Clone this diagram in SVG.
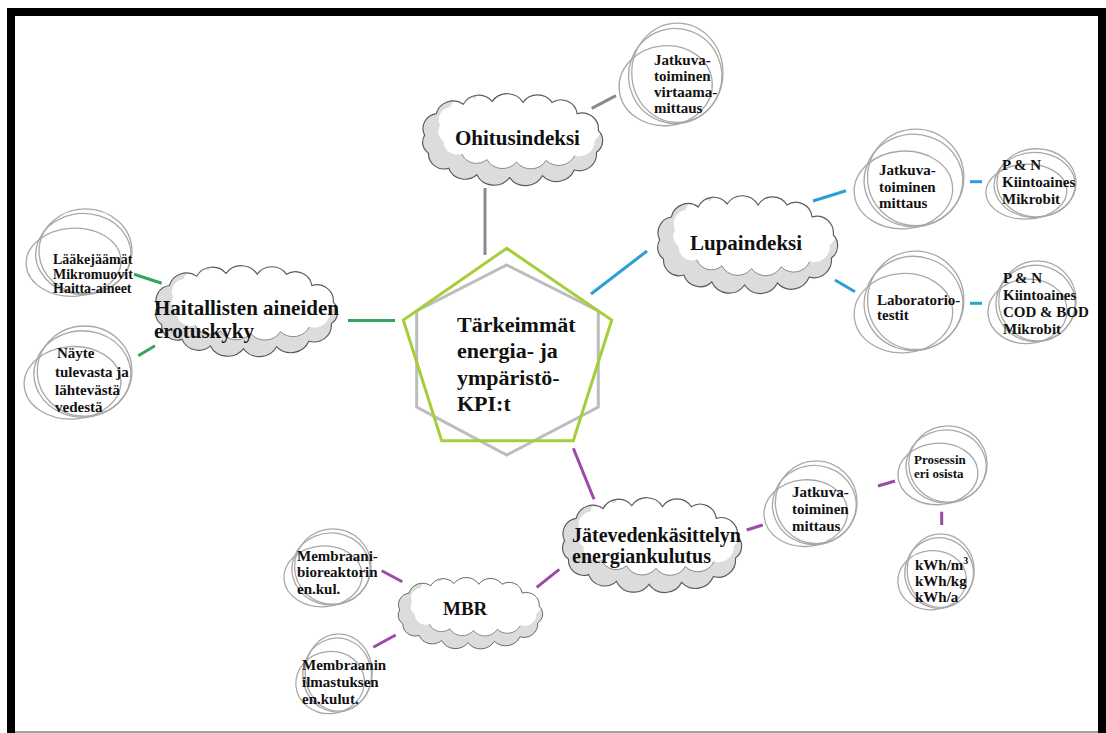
<svg xmlns="http://www.w3.org/2000/svg" xmlns:xlink="http://www.w3.org/1999/xlink" width="1106" height="733" viewBox="0 0 1106 733">
<style>
text{font-family:"Liberation Serif","Times New Roman",serif;font-weight:bold;fill:#111}
.big{font-size:21px}
.sm{font-size:15px}
.c{stroke-width:3;stroke-linecap:butt;fill:none}
.gray{stroke:#8a8a8a}.blue{stroke:#2b9ed4}.green{stroke:#35a55c}.purple{stroke:#9b4aa5}
</style>
<defs>
<path id="cp" d="M10,45 A16,16 0 0 1 22,22 A18,18 0 0 1 50,12 A18,18 0 0 1 80,9 A19,19 0 0 1 112,10 A18,18 0 0 1 142,10 A17,17 0 0 1 168,22 A17,17 0 0 1 190,40 A15,15 0 0 1 188,63 A18,18 0 0 1 165,82 A20,20 0 0 1 132,88 A20,20 0 0 1 98,90 A20,20 0 0 1 64,87 A18,18 0 0 1 35,80 A16,16 0 0 1 14,64 A14,14 0 0 1 10,45 Z"/>
<clipPath id="cclip"><use xlink:href="#cp"/></clipPath>
<symbol id="cloud" viewBox="0 0 200 100" preserveAspectRatio="none" style="overflow:visible">
<use xlink:href="#cp" fill="#dcdcdc"/>
<g clip-path="url(#cclip)">
<g transform="translate(17,-4) scale(0.9,0.86)">
<use xlink:href="#cp" fill="#fff"/>
<path d="M165,82 A20,20 0 0 1 132,88 A20,20 0 0 1 98,90 A20,20 0 0 1 64,87 A18,18 0 0 1 35,80" fill="none" stroke="#8a8a8a" stroke-width="1" vector-effect="non-scaling-stroke"/>
</g>
</g>
<use xlink:href="#cp" fill="none" stroke="#5a5a5a" stroke-width="1.2" vector-effect="non-scaling-stroke"/>
</symbol>
<symbol id="sk" viewBox="0 0 100 100" preserveAspectRatio="none" style="overflow:visible">
<g fill="none" stroke="#a8a8a8" stroke-width="1.3">
<ellipse cx="56" cy="47" rx="43" ry="46" vector-effect="non-scaling-stroke"/>
<ellipse cx="45" cy="59" rx="44" ry="37" transform="rotate(-5 45 59)" vector-effect="non-scaling-stroke"/>
<ellipse cx="54" cy="50" rx="44" ry="44" transform="rotate(20 54 50)" vector-effect="non-scaling-stroke"/>
</g>
</symbol>
</defs>
<rect width="1106" height="733" fill="#fff"/>
<g id="frame">
<rect x="7" y="8" width="1099" height="8" fill="#000"/>
<rect x="7" y="8" width="8" height="725" fill="#000"/>
<rect x="1098" y="8" width="8" height="725" fill="#000"/>
<line x1="15" y1="732" x2="1098" y2="732" stroke="#444" stroke-width="1"/>
</g>
<g id="connectors">
<line class="c gray" x1="591.7" y1="108.3" x2="616" y2="95.7"/>
<line class="c gray" x1="485" y1="188" x2="485" y2="255"/>
<line class="c blue" x1="591" y1="294" x2="647" y2="251"/>
<line class="c blue" x1="813" y1="201" x2="846" y2="190.7"/>
<line class="c blue" x1="835" y1="280" x2="855" y2="291.7"/>
<line class="c blue" x1="970" y1="181.7" x2="982" y2="181.7"/>
<line class="c blue" x1="970" y1="303.3" x2="982" y2="303.3"/>
<line class="c green" x1="134" y1="274.3" x2="161.7" y2="283.3"/>
<line class="c green" x1="138.3" y1="355.7" x2="155" y2="345.7"/>
<line class="c green" x1="348" y1="320.5" x2="395" y2="320.5"/>
<line class="c purple" x1="573.3" y1="448.3" x2="594" y2="499.3"/>
<line class="c purple" x1="746.7" y1="530" x2="762.7" y2="525"/>
<line class="c purple" x1="878" y1="486" x2="895" y2="481"/>
<line class="c purple" x1="941.7" y1="511.7" x2="941.7" y2="525"/>
<line class="c purple" x1="536.7" y1="587.3" x2="559.3" y2="569.3"/>
<line class="c purple" x1="381.7" y1="570.7" x2="402.3" y2="581.7"/>
<line class="c purple" x1="373.3" y1="647.3" x2="395.7" y2="635"/>
</g>
<g id="center">
<polygon points="506.7,265 598.3,311 598.3,407 506.7,455 416.7,407 416.7,311" fill="#fff" stroke="#bdbdbd" stroke-width="3"/>
<polygon points="506.7,248.3 611.7,320 573.3,440.7 441.7,440.7 403.3,320" fill="none" stroke="#a6ce39" stroke-width="3"/>
<text x="457" y="331.7" font-size="22">Tärkeimmät</text>
<text x="457" y="358.3" font-size="22">energia- ja</text>
<text x="457" y="384.5" font-size="22">ympäristö-</text>
<text x="457" y="410.5" font-size="22">KPI:t</text>
</g>
<g id="ohitusindeksi">
<use xlink:href="#cloud" x="415" y="93" width="193" height="94"/>
<text class="big" x="455" y="145">Ohitusindeksi</text>
</g>
<g id="virtaama">
<use xlink:href="#sk" x="618" y="22" width="106" height="108"/>
<text class="sm" x="654" y="65">Jatkuva-</text>
<text class="sm" x="654" y="81">toiminen</text>
<text class="sm" x="654" y="97">virtaama-</text>
<text class="sm" x="654" y="113">mittaus</text>
</g>
<g id="lupaindeksi">
<use xlink:href="#cloud" x="650" y="195" width="193" height="100"/>
<text class="big" x="690" y="250">Lupaindeksi</text>
</g>
<g id="lupa-jatkuva">
<use xlink:href="#sk" x="853" y="128" width="112" height="105"/>
<text class="sm" x="879" y="175">Jatkuva-</text>
<text class="sm" x="879" y="191.5">toiminen</text>
<text class="sm" x="879" y="207.5">mittaus</text>
</g>
<g id="pn1">
<use xlink:href="#sk" x="985" y="148" width="92" height="74"/>
<text class="sm" x="1002" y="170">P &amp; N</text>
<text class="sm" x="1002" y="187">Kiintoaines</text>
<text class="sm" x="1002" y="204">Mikrobit</text>
</g>
<g id="laboratorio">
<use xlink:href="#sk" x="853" y="250" width="112" height="107"/>
<text class="sm" x="877" y="305">Laboratorio-</text>
<text class="sm" x="877" y="320">testit</text>
</g>
<g id="pn2">
<use xlink:href="#sk" x="987" y="260" width="90" height="87"/>
<text class="sm" x="1003" y="283.3">P &amp; N</text>
<text class="sm" x="1003" y="300">Kiintoaines</text>
<text class="sm" x="1003" y="317.3">COD &amp; BOD</text>
<text class="sm" x="1003" y="334">Mikrobit</text>
</g>
<g id="haitallisten">
<use xlink:href="#cloud" x="148" y="265" width="195" height="93"/>
<text class="big" x="154" y="315">Haitallisten aineiden</text>
<text class="big" x="154" y="338">erotuskyky</text>
</g>
<g id="laakejaamat">
<use xlink:href="#sk" x="25" y="208" width="108" height="92"/>
<text x="53" y="264" font-size="14">Lääkejäämät</text>
<text x="53" y="278.5" font-size="14">Mikromuovit</text>
<text x="53" y="293" font-size="14">Haitta-aineet</text>
</g>
<g id="nayte">
<use xlink:href="#sk" x="23" y="325" width="110" height="98"/>
<text class="sm" x="57" y="358.3">Näyte</text>
<text class="sm" x="55" y="376.5">tulevasta ja</text>
<text class="sm" x="55" y="394.5">lähtevästä</text>
<text class="sm" x="55" y="411.7">vedestä</text>
</g>
<g id="jatevesi">
<use xlink:href="#cloud" x="555" y="497" width="192" height="97"/>
<text x="572" y="541.7" font-size="20">Jätevedenkäsittelyn</text>
<text x="572" y="563.3" font-size="20">energiankulutus</text>
</g>
<g id="jatkuva-bottom">
<use xlink:href="#sk" x="763" y="460" width="95" height="90"/>
<text class="sm" x="792" y="497.3">Jatkuva-</text>
<text class="sm" x="792" y="514">toiminen</text>
<text class="sm" x="792" y="530.7">mittaus</text>
</g>
<g id="prosessin">
<use xlink:href="#sk" x="897" y="425" width="91" height="83"/>
<text x="914" y="464" font-size="13">Prosessin</text>
<text x="914" y="478" font-size="13">eri osista</text>
</g>
<g id="kwh">
<use xlink:href="#sk" x="897" y="533" width="78" height="80"/>
<text class="sm" x="915" y="570">kWh/m<tspan dy="-6" font-size="10">3</tspan></text>
<text class="sm" x="915" y="586">kWh/kg</text>
<text class="sm" x="915" y="601.5">kWh/a</text>
</g>
<g id="mbr">
<use xlink:href="#cloud" x="392" y="577" width="155" height="73"/>
<text x="443" y="615" font-size="19">MBR</text>
</g>
<g id="membraani-bio">
<use xlink:href="#sk" x="283" y="528" width="89" height="82"/>
<text class="sm" x="297" y="560.7">Membraani-</text>
<text class="sm" x="297" y="577">bioreaktorin</text>
<text class="sm" x="297" y="594">en.kul.</text>
</g>
<g id="membraani-ilma">
<use xlink:href="#sk" x="295" y="633" width="78" height="84"/>
<text class="sm" x="302" y="670">Membraanin</text>
<text class="sm" x="302" y="687">ilmastuksen</text>
<text class="sm" x="302" y="703.5">en.kulut.</text>
</g>
</svg>
